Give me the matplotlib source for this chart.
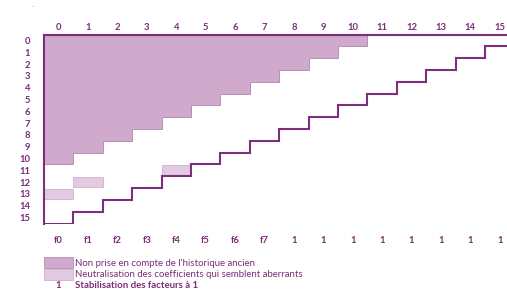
import matplotlib.pyplot as plt
from matplotlib.patches import Rectangle
import numpy as np

plt.rcParams['font.family'] = ['Lato', 'DejaVu Sans']

# data
columns = list(range(16))
rows = list(range(16))
hist_len = [11, 10, 9, 8, 7, 6, 5, 4, 3, 2, 1, 0, 0, 0, 0, 0]   # cells ignored per row
tri_len = [16 - r for r in rows]                                   # triangle width per row
neutral_rows = [11, 12, 13]
neutral_cols = [4, 1, 0]
bottom_labels = ['f0', 'f1', 'f2', 'f3', 'f4', 'f5', 'f6', 'f7',
                 '1', '1', '1', '1', '1', '1', '1', '1']

dark = '#7d2f7d'
fill_dark = '#cfaacd'
fill_light = '#e2cae0'
txt = '#7a2d78'

fig = plt.figure(figsize=(5.07, 2.90), dpi=100)
ax = fig.add_axes([44 / 507, 1 - 223.5 / 290, 470.4 / 507, 189 / 290])

edges = np.arange(17)
ax.stairs(hist_len, edges, orientation='horizontal', baseline=0, fill=True,
          color=fill_dark, lw=0)
ax.stairs(hist_len, edges, orientation='horizontal', baseline=None,
          color='#b68db4', lw=0.7)

for r, c in zip(neutral_rows, neutral_cols):
    ax.add_patch(Rectangle((c, r + 0.06), 1, 0.88, facecolor=fill_light,
                           edgecolor='#cfb0cd', lw=0.6))

ax.stairs(tri_len, edges, orientation='horizontal', baseline=0,
          color=dark, lw=1.5)

ax.set_xlim(0, 16)
ax.set_ylim(16, 0)
for s in ['right', 'bottom']:
    ax.spines[s].set_visible(False)
for s in ['left', 'top']:
    ax.spines[s].set_color(dark)
    ax.spines[s].set_linewidth(1.5)

ax.xaxis.tick_top()
ax.set_xticks(np.array(columns) + 0.5)
ax.set_xticklabels([str(c) for c in columns])
ax.set_yticks(np.array(rows) + 0.5)
ax.set_yticklabels([str(r) for r in rows])
ax.tick_params(length=0, labelsize=6.8, labelcolor=txt)
ax.tick_params(axis='x', pad=2)
ax.tick_params(axis='y', pad=10)
for lab in ax.get_xticklabels() + ax.get_yticklabels():
    lab.set_fontweight('bold')

for c, lab in zip(columns, bottom_labels):
    ax.text(c + 0.5, 17.4, lab, ha='center', va='center', fontsize=6.8,
            color=txt, fontweight='bold', clip_on=False)

# legend
fig.patches.append(Rectangle((44 / 507, 1 - 268 / 290), 29 / 507, 11 / 290,
                             transform=fig.transFigure, facecolor=fill_dark,
                             edgecolor='#b68db4', lw=0.6))
fig.patches.append(Rectangle((44 / 507, 1 - 280 / 290), 29 / 507, 11 / 290,
                             transform=fig.transFigure, facecolor=fill_light,
                             edgecolor='#cfb0cd', lw=0.6))
fig.text(75 / 507, 1 - 263 / 290, "Non prise en compte de l'historique ancien",
         fontsize=6.9, color=txt, va='center')
fig.text(75 / 507, 1 - 274.5 / 290, "Neutralisation des coefficients qui semblent aberrants",
         fontsize=6.9, color=txt, va='center')
fig.text(58 / 507, 1 - 286 / 290, "1", fontsize=6.9, color=txt, va='center',
         ha='center', fontweight='bold')
fig.text(75 / 507, 1 - 286 / 290, "Stabilisation des facteurs à 1",
         fontsize=6.9, color=txt, va='center', fontweight='bold')
fig.text(32 / 507, 1 - 7 / 290, "-", fontsize=5, color='#bbbbbb', va='center')

fig.savefig('out.png', dpi=100)
